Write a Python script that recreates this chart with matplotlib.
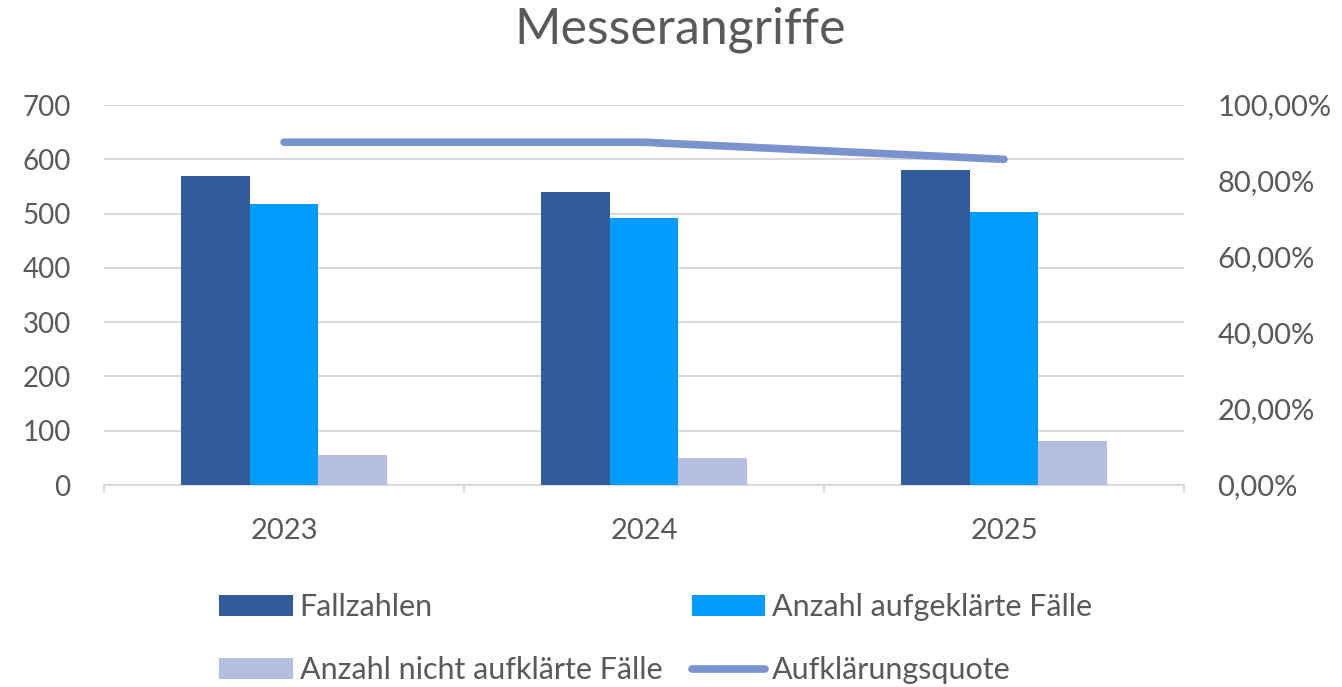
import matplotlib
matplotlib.use("Agg")
import matplotlib.pyplot as plt
import numpy as np
from matplotlib.ticker import FuncFormatter

plt.rcParams['font.family'] = ['Lato', 'DejaVu Sans']

jahre = ['2023', '2024', '2025']
fallzahlen = [570, 540, 581]
aufgeklaert = [517, 492, 502]
nicht_aufgeklaert = [55, 49, 81]
quote = [0.902, 0.902, 0.857]

grau = '#595959'
gitter = '#d9d9d9'

fig = plt.figure(figsize=(13.42, 6.87), dpi=100)
ax = fig.add_axes([104/1342, 1-485/687, 1080/1342, 380/687])
ax2 = ax.twinx()

x = np.arange(len(jahre))
w = 0.19
b1 = ax.bar(x - w, fallzahlen, w, color='#335a9a', label='Fallzahlen', zorder=3)
b2 = ax.bar(x, aufgeklaert, w, color='#009bff', label='Anzahl aufgeklärte Fälle', zorder=3)
b3 = ax.bar(x + w, nicht_aufgeklaert, w, color='#b4bfdf', label='Anzahl nicht aufklärte Fälle', zorder=3)
l1, = ax2.plot(x, quote, color='#7a92ce', lw=5.5, solid_capstyle='round',
               label='Aufklärungsquote', zorder=4)

ax.set_xlim(-0.5, 2.5)
ax.set_ylim(0, 700)
ax.set_yticks(range(0, 701, 100))
ax2.set_ylim(0, 1.0)
ax2.set_yticks(np.arange(0, 1.01, 0.2))
ax2.yaxis.set_major_formatter(FuncFormatter(lambda v, p: f'{v*100:.2f}%'.replace('.', ',')))

ax.grid(axis='y', color=gitter, lw=1.5, zorder=0)
ax.set_axisbelow(True)
for a in (ax, ax2):
    for s in a.spines.values():
        s.set_visible(False)
ax.spines['bottom'].set_visible(True)
ax.spines['bottom'].set_color(gitter)
ax.spines['bottom'].set_linewidth(1.5)

# Jahreszahlen mittig, Striche an den Kategoriegrenzen
ax.set_xticks(x)
ax.set_xticklabels(jahre)
ax.set_xticks([-0.5, 0.5, 1.5, 2.5], minor=True)
ax.tick_params(axis='x', which='major', length=0, pad=24, labelsize=21, labelcolor=grau)
ax.tick_params(axis='x', which='minor', length=6, width=1.5, color=gitter)
ax.tick_params(axis='y', length=0, pad=24, labelsize=20, labelcolor=grau)
ax2.tick_params(axis='y', length=0, pad=24, labelsize=21, labelcolor=grau)

fig.text(680/1342, 1-30/687, 'Messerangriffe', ha='center', va='center', fontsize=36, color=grau)

fig.legend([b1, b3, b2, l1],
           ['Fallzahlen', 'Anzahl nicht aufklärte Fälle', 'Anzahl aufgeklärte Fälle', 'Aufklärungsquote'],
           ncol=2, loc='upper left', bbox_to_anchor=(204/1342, 1-578/687),
           frameon=False, fontsize=22, labelcolor=grau,
           handlelength=2.4, handleheight=0.65, handletextpad=0.23,
           columnspacing=0.97, labelspacing=1.15, borderpad=0)

fig.savefig('out.png', dpi=100)
